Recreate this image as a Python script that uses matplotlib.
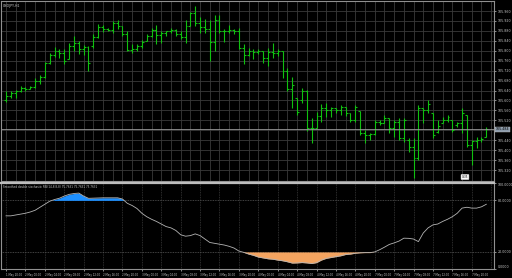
import matplotlib
matplotlib.use("Agg")
import matplotlib.pyplot as plt
import numpy as np

# OHLC of the price panel (USDJPY, H1)
highs = [105.640, 105.640, 105.644, 105.660, 105.656, 105.660, 105.692, 105.704, 105.756, 105.792,
         105.816, 105.808, 105.808, 105.832, 105.860, 105.840, 105.824, 105.820, 105.868, 105.908,
         105.904, 105.892, 105.920, 105.924, 105.900, 105.880, 105.828, 105.828, 105.844, 105.868,
         105.892, 105.904, 105.880, 105.880, 105.892, 105.888, 105.880, 105.924, 105.956, 105.980,
         105.936, 105.928, 105.924, 105.944, 105.944, 105.888, 105.904, 105.888, 105.892, 105.828,
         105.812, 105.808, 105.808, 105.800, 105.812, 105.832, 105.808, 105.800, 105.732, 105.696,
         105.612, 105.652, 105.644, 105.528, 105.552, 105.584, 105.588, 105.572, 105.568, 105.580,
         105.572, 105.548, 105.580, 105.556, 105.480, 105.468, 105.520, 105.520, 105.540, 105.528,
         105.520, 105.528, 105.528, 105.448, 105.448, 105.580, 105.568, 105.600, 105.548, 105.520,
         105.532, 105.540, 105.520, 105.512, 105.568, 105.540, 105.440, 105.452, 105.452, 105.492]
lows = [105.592, 105.608, 105.612, 105.636, 105.640, 105.648, 105.652, 105.668, 105.692, 105.748,
        105.776, 105.772, 105.748, 105.768, 105.800, 105.788, 105.784, 105.720, 105.812, 105.852,
        105.876, 105.880, 105.872, 105.888, 105.860, 105.800, 105.792, 105.800, 105.812, 105.840,
        105.856, 105.828, 105.832, 105.860, 105.872, 105.860, 105.848, 105.832, 105.900, 105.900,
        105.872, 105.872, 105.760, 105.800, 105.872, 105.836, 105.872, 105.868, 105.808, 105.748,
        105.780, 105.768, 105.788, 105.752, 105.740, 105.772, 105.780, 105.692, 105.640, 105.568,
        105.540, 105.588, 105.476, 105.428, 105.488, 105.512, 105.532, 105.532, 105.548, 105.540,
        105.536, 105.512, 105.512, 105.460, 105.428, 105.440, 105.460, 105.500, 105.508, 105.468,
        105.452, 105.440, 105.432, 105.392, 105.288, 105.360, 105.508, 105.548, 105.448, 105.468,
        105.508, 105.512, 105.472, 105.492, 105.468, 105.412, 105.340, 105.408, 105.432, 105.452]
opens = [105.600, 105.620, 105.632, 105.640, 105.652, 105.648, 105.656, 105.680, 105.696, 105.752,
         105.784, 105.800, 105.792, 105.768, 105.820, 105.832, 105.808, 105.816, 105.820, 105.856,
         105.896, 105.888, 105.884, 105.912, 105.900, 105.868, 105.804, 105.808, 105.820, 105.840,
         105.860, 105.884, 105.864, 105.872, 105.880, 105.884, 105.868, 105.856, 105.900, 105.952,
         105.912, 105.896, 105.888, 105.836, 105.924, 105.880, 105.880, 105.884, 105.880, 105.812,
         105.784, 105.800, 105.796, 105.800, 105.772, 105.796, 105.792, 105.800, 105.720, 105.648,
         105.608, 105.600, 105.640, 105.488, 105.488, 105.536, 105.568, 105.560, 105.568, 105.560,
         105.572, 105.548, 105.520, 105.556, 105.468, 105.460, 105.464, 105.512, 105.508, 105.528,
         105.488, 105.512, 105.448, 105.440, 105.412, 105.368, 105.568, 105.560, 105.548, 105.472,
         105.508, 105.520, 105.520, 105.500, 105.508, 105.540, 105.420, 105.436, 105.440, 105.452]
closes = [105.620, 105.632, 105.640, 105.652, 105.648, 105.656, 105.680, 105.696, 105.752, 105.784,
          105.800, 105.792, 105.760, 105.820, 105.832, 105.808, 105.816, 105.752, 105.856, 105.896,
          105.888, 105.884, 105.912, 105.900, 105.868, 105.804, 105.808, 105.820, 105.836, 105.860,
          105.884, 105.864, 105.872, 105.880, 105.884, 105.868, 105.856, 105.900, 105.952, 105.912,
          105.896, 105.888, 105.836, 105.924, 105.880, 105.880, 105.884, 105.880, 105.812, 105.784,
          105.800, 105.796, 105.800, 105.772, 105.796, 105.792, 105.800, 105.720, 105.648, 105.664,
          105.552, 105.640, 105.488, 105.488, 105.536, 105.568, 105.560, 105.568, 105.560, 105.572,
          105.548, 105.520, 105.572, 105.468, 105.460, 105.464, 105.512, 105.508, 105.528, 105.488,
          105.512, 105.448, 105.520, 105.412, 105.368, 105.568, 105.560, 105.584, 105.460, 105.496,
          105.520, 105.532, 105.480, 105.508, 105.548, 105.420, 105.436, 105.440, 105.444, 105.484]

# smoothed double stochastic RSI, one value per bar
stoch = [62, 62, 63, 64, 65, 66.5, 68.5, 72, 75.5, 79,
         81, 82.5, 85, 87, 88, 88.5, 85, 82.4, 82.6, 82.8,
         83, 83, 83, 83, 81.6, 76.6, 74, 70.5, 65, 61,
         58, 55.5, 52.5, 49.5, 48, 45, 40, 38.3, 39, 41,
         39, 35, 31, 30, 29, 28, 26.5, 24.5, 21, 19.5,
         17.5, 16, 14, 13, 12, 11.5, 10.5, 9.7, 8.5, 7,
         7.2, 7.6, 7.2, 6.5, 7.5, 10.5, 12.5, 13.5, 14.5, 15.5,
         17, 17.5, 18.5, 19, 19.2, 19.2, 20, 22.5, 25.5, 28.7,
         30.5, 32.6, 36, 35.8, 35, 32, 42, 48, 51.5, 52.5,
         55.5, 58, 61, 65, 71, 72, 71, 71, 72.5, 75.5]

time_labels = ["1 May 20:00", "2 May 00:00", "2 May 04:00", "2 May 08:00", "2 May 12:00",
               "2 May 16:00", "2 May 20:00", "3 May 00:00", "3 May 04:00", "3 May 08:00",
               "3 May 12:00", "3 May 16:00", "3 May 20:00", "4 May 00:00", "4 May 04:00",
               "4 May 08:00", "4 May 12:00", "4 May 16:00", "4 May 20:00", "7 May 00:00",
               "7 May 04:00", "7 May 08:00", "7 May 12:00", "7 May 16:00", "7 May 20:00"]

price_ticks = [105.960, 105.920, 105.880, 105.840, 105.800, 105.760, 105.720, 105.680, 105.640,
               105.600, 105.560, 105.520, 105.480, 105.440, 105.400, 105.360, 105.320]
stoch_ticks = [0, 20, 80, 100]

bg = "black"
grid_c = "#3a3a3a"
txt_c = "#c8c8c8"
bar_c = "#10c010"

fig = plt.figure(figsize=(5.12, 2.78), dpi=100, facecolor=bg)
ax1 = fig.add_axes([0.002, 0.349, 0.963, 0.647])
ax2 = fig.add_axes([0.002, 0.032, 0.963, 0.309])

x = np.arange(len(highs))
for ax in (ax1, ax2):
    ax.set_facecolor(bg)
    ax.set_xlim(-1.03, 100.6)
    for s in ax.spines.values():
        s.set_color("#909090")
        s.set_linewidth(0.8)
    ax.yaxis.tick_right()
    ax.tick_params(axis="y", colors=txt_c, labelsize=2.3, length=1.5, width=0.5, pad=1)

# price panel
ax1.set_ylim(105.276, 106.000)
ax1.set_yticks(price_ticks)
# the label next to the bid line is hidden under the bid box
ax1.set_yticklabels(["" if abs(p - closes[-1]) < 0.01 else "%.3f" % p for p in price_ticks])
ax1.set_xticks([])
for p in price_ticks:
    ax1.axhline(p, color=grid_c, lw=0.6, zorder=0)
for i in range(0, 101, 2):
    ax1.axvline(i, color=grid_c, lw=0.6, zorder=0)
ax1.vlines(x, lows, highs, color=bar_c, lw=0.8)
ax1.hlines(opens, x - 0.4, x, color=bar_c, lw=0.8)
ax1.hlines(closes, x, x + 0.4, color=bar_c, lw=0.8)
ax1.axhline(closes[-1], color="#9a9a9a", lw=0.6)
ax1.text(1.003, closes[-1], "%.3f" % closes[-1], transform=ax1.get_yaxis_transform(),
         fontsize=2.3, color="black", va="center", ha="left",
         bbox=dict(boxstyle="square,pad=0.2", fc="#8c9bab", ec="#c0c0c0", lw=0.3))
ax1.text(0.003, 0.985, "USDJPY,H1", transform=ax1.transAxes, fontsize=2.3,
         color=txt_c, va="top", ha="left")
ax1.text(94.6, 105.292, "0:35", fontsize=2.1, color="black", va="center", ha="center",
         bbox=dict(boxstyle="round,pad=0.25", fc="white", ec="#bbbbbb", lw=0.3))

# oscillator panel
ax2.set_ylim(0, 100)
ax2.set_yticks(stoch_ticks)
ax2.set_yticklabels(["%.4f" % v for v in stoch_ticks])
lbls = ax2.get_yticklabels()
lbls[-1].set_va("top")
lbls[0].set_va("bottom")
for i in range(0, 101, 4):
    ax2.axvline(i, color=grid_c, lw=0.6, ls=(0, (1, 1)), zorder=0)
for lv in (20, 80):
    ax2.axhline(lv, color="#585858", lw=0.6, ls=(0, (1, 1)), zorder=0)
s = np.array(stoch)
ax2.fill_between(x, 80, s, where=s >= 80, interpolate=True, color="#1e90ff", lw=0)
ax2.fill_between(x, 20, s, where=s <= 20, interpolate=True, color="#f4a460", lw=0)
ax2.plot(x, s, color="#b4b4b4", lw=0.6)
ax2.text(0.003, 0.975, "Smoothed double stochastic RSI(14,8,8,8) 75.7631 75.7631 75.7631",
         transform=ax2.transAxes, fontsize=2.0, color=txt_c, va="top", ha="left")
ax2.set_xticks(np.arange(0, 100, 4))
ax2.set_xticklabels(time_labels, ha="left")
ax2.tick_params(axis="x", colors=txt_c, labelsize=1.9, length=1.5, width=0.5, pad=1)
ax2.spines["top"].set_linewidth(1.6)
ax2.spines["top"].set_color("#bdbdbd")

fig.savefig("out.png", dpi=100, facecolor=bg)
